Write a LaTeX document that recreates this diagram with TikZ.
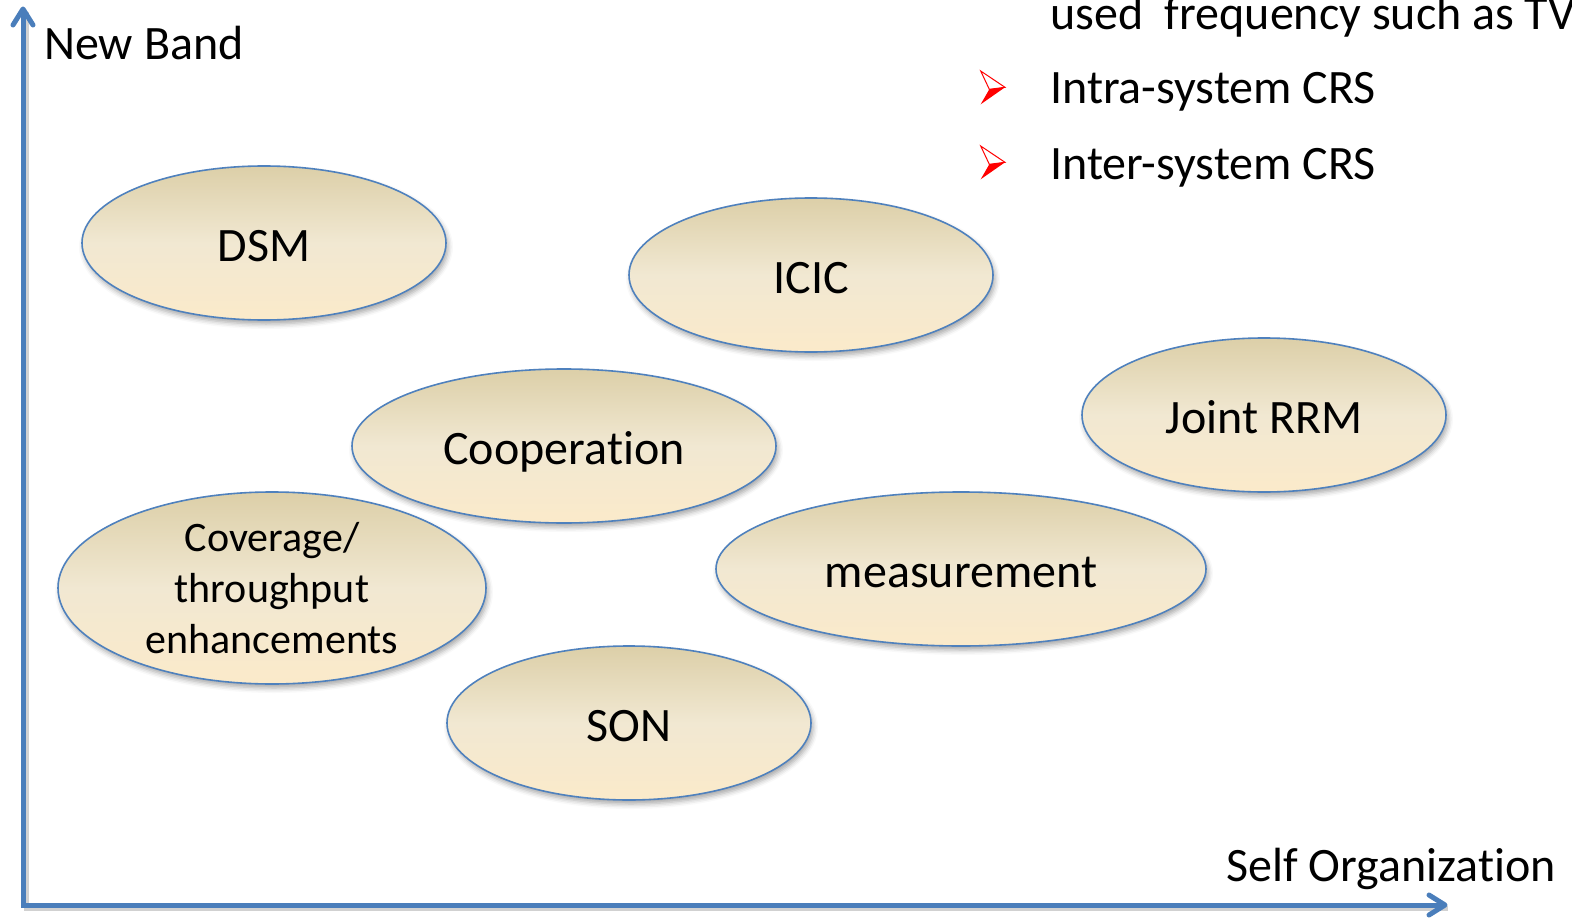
\documentclass[tikz,border=0pt]{standalone}
\usepackage{fontspec}
\setmainfont{Carlito}[Ligatures=NoCommon]
\usetikzlibrary{shapes.geometric,shadows.blur}
\definecolor{axisblue}{HTML}{4A7EBB}
\definecolor{rimblue}{HTML}{4F81BD}
\definecolor{tantop}{HTML}{DCCFA8}
\definecolor{tanmid}{HTML}{F1E8D2}
\definecolor{tanbot}{HTML}{FBEACA}
\definecolor{bulletred}{HTML}{FF0000}
\tikzset{
  bubble/.style={ellipse, draw=rimblue, line width=1.6pt,
    top color=tantop, bottom color=tanbot, middle color=tanmid,
    inner sep=0pt, minimum width=364pt, minimum height=154pt,
    font=\fontsize{48}{58}\selectfont,
    blur shadow={shadow xshift=2pt, shadow yshift=-4pt,
      shadow blur radius=5pt, shadow opacity=35}},
  oneline/.style={text height=36pt, text depth=0pt},
  axis/.style={draw=axisblue, line width=5pt, line join=miter},
  barbline/.style={draw=axisblue, line width=5pt, line cap=round, line join=round},
  axisshadow/.style={draw=black, opacity=0.18, line width=5pt},
  lbl/.style={font=\fontsize{48}{58}\selectfont, anchor=base west, inner sep=0pt},
  bulletarrow/.pic={
    \filldraw[draw=bulletred, fill=white, line width=1pt, line join=miter]
      (0,0) -- (24.3,16.3) -- (8.6,18.3) -- cycle;
    \fill[bulletred] (8.6,18.3) -- (24.3,16.3) -- (0,33.3) -- cycle;
  },
}
\begin{document}
\begin{tikzpicture}[x=1pt,y=-1pt]
  \useasboundingbox (0,0) rectangle (1572,923);
  \clip (0,0) rectangle (1572,923);

  % axes
  \coordinate (O) at (23,905);
  \coordinate (ytip) at (23,9);
  \coordinate (xtip) at (1445,905);
  \draw[axisshadow] ([shift={(3,3)}]ytip) -- ([shift={(3,3)}]O) -- ([shift={(3,3)}]xtip);
  \draw[axis] (ytip) -- (O) -- (xtip);
  \draw[barbline] ([shift={(-10,16)}]ytip) -- (ytip) -- ([shift={(10,16)}]ytip);
  \draw[barbline] ([shift={(-16,-10)}]xtip) -- (xtip) -- ([shift={(-16,10)}]xtip);

  \node[lbl] (nb) at (44,60) {New Band};
  \node[lbl] (so) at (1226,881) {Self Organization};

  % list in the upper right corner
  \node[lbl] (tv) at (1050,30) {used\ \ frequency such as TV};
  \pic at (980.7,71) {bulletarrow};
  \node[lbl] (intra) at (1050,104) {Intra-system CRS};
  \pic at (980.7,146) {bulletarrow};
  \node[lbl] (inter) at (1050,179) {Inter-system CRS};

  % technique bubbles
  \node[bubble, oneline] (dsm) at (264,243) {DSM};
  \node[bubble, oneline] (icic) at (811,275) {ICIC};
  \node[bubble, oneline] (rrm) at (1264,415) {Joint RRM};
  \node[bubble, oneline, minimum width=424pt] (coop) at (564,446) {Cooperation};
  \node[bubble, oneline, minimum width=490pt] (meas) at (961,569) {measurement};
  \node[bubble, minimum width=428pt, minimum height=192pt, align=center,
        font=\fontsize{42}{51}\selectfont] (cov) at (272,588)
        {Coverage/\\throughput\\enhancements};
  \node[bubble, oneline] (son) at (629,723) {SON};
\end{tikzpicture}
\end{document}
